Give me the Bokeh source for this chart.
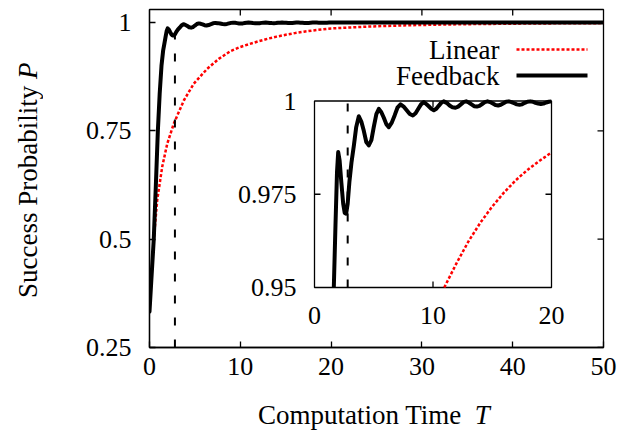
import numpy as np
from bokeh.plotting import figure
from bokeh.layouts import row, column
from bokeh.models import Range1d, FixedTicker, NumeralTickFormatter, Label, Arrow, Div
from bokeh.core.properties import value
from bokeh.embed import file_html
from bokeh.resources import INLINE

# ---------------- data ----------------
fb_T = [0, 0.2, 0.47, 0.7, 0.92, 1.12, 1.32, 1.5, 1.63, 1.77, 1.9, 2.0, 2.12, 2.27,
        2.42, 2.55, 2.67, 2.8, 2.95, 3.12, 3.32, 3.52, 3.74, 3.95, 4.16, 4.37, 4.58,
        4.8, 5.0, 5.22, 5.43, 5.64, 5.85, 6.06, 6.27, 6.52, 6.77, 7.0, 7.26, 7.52,
        7.78, 8.04, 8.3, 8.53, 8.76, 8.99, 9.22, 9.43, 9.64, 9.86, 10.07, 10.28,
        10.48, 10.69, 10.9, 11.15, 11.4, 11.65, 11.9, 12.12, 12.35, 12.57, 12.8,
        13.02, 13.25, 13.47, 13.7, 13.92, 14.15, 14.37, 14.6, 14.82, 15.05, 15.27,
        15.5, 15.72, 15.95, 16.17, 16.4, 16.62, 16.85, 17.07, 17.3, 17.52, 17.75,
        17.97, 18.2, 18.42, 18.65, 18.87, 19.1, 19.32, 19.55, 19.77, 20.0, 25, 30,
        35, 40, 45, 50]
fb_P = [0.333, 0.405, 0.50, 0.625, 0.75, 0.835, 0.90, 0.935, 0.950, 0.9667, 0.981,
        0.9863, 0.984, 0.978, 0.9725, 0.9700, 0.9698, 0.9725, 0.9785, 0.9835, 0.988,
        0.993, 0.9959, 0.9945, 0.992, 0.989, 0.9881, 0.9895, 0.993, 0.9965, 0.9979,
        0.997, 0.9955, 0.9938, 0.993, 0.9942, 0.9962, 0.9982, 0.9991, 0.9985, 0.9975,
        0.9965, 0.9961, 0.9967, 0.9979, 0.9991, 0.9997, 0.9992, 0.9986, 0.9979,
        0.9975, 0.9979, 0.9987, 0.9995, 0.9999, 0.9995, 0.9988, 0.9983, 0.9982,
        0.9985, 0.9991, 0.9997, 0.9999, 0.9996, 0.9991, 0.9986, 0.9985, 0.9987,
        0.9992, 0.9997, 0.9999, 0.9997, 0.9993, 0.9989, 0.9988, 0.9990, 0.9994,
        0.9998, 0.9999, 0.9997, 0.9994, 0.9991, 0.9990, 0.9991, 0.9995, 0.9998,
        0.9999, 0.9998, 0.9995, 0.9993, 0.9992, 0.9993, 0.9996, 0.9998, 0.9999,
        1.0, 1.0, 1.0, 1.0, 1.0, 1.0]

lin_T = [0, 0.2, 0.47, 0.85, 1.4, 1.95, 2.68, 3.78, 4.88, 6.35, 7.63, 8.92, 10.0,
         10.95, 12, 13, 14, 15, 16, 17, 18, 19, 20, 22, 24, 26, 28, 30, 33, 36, 40,
         45, 50]
lin_P = [0.333, 0.41, 0.498, 0.59, 0.667, 0.72, 0.767, 0.82, 0.859, 0.893, 0.916,
         0.934, 0.9435, 0.950, 0.9566, 0.9624, 0.9674, 0.9717, 0.9755, 0.9788,
         0.9816, 0.984, 0.9862, 0.9885, 0.9905, 0.992, 0.9933, 0.9943, 0.9955,
         0.9964, 0.9973, 0.9981, 0.9986]

t_opt = 2.8          # dashed marker time
p_opt_top = 0.972    # where the dashed marker meets the feedback curve

series_names = ["Linear", "Feedback"]
x_ticks = [0, 10, 20, 30, 40, 50]
y_ticks = [0.25, 0.5, 0.75, 1.0]
inset_x_ticks = [0, 10, 20]
inset_x_labels = ["0", "10", "20"]
inset_y_ticks = [0.95, 0.975, 1.0]
inset_y_labels = ["0.95", "0.975", "1"]
x_title = ["Computation Time", "T"]
y_title = ["Success Probability", "P"]

# ---------------- layout ----------------
TOTAL_W, TOTAL_H = 621, 430
YW = 45            # width of the y-title strip
XH = 35            # height of the x-title strip
W, H = TOTAL_W - YW, TOTAL_H - XH
FW, FH = 454, 338
BL, BT = 149 - YW, 9
BR = W - BL - FW
BB = H - BT - FH
X0, X1 = 0, 50
Y0, Y1 = 0.25, 1.03
# inset box in frame pixels (from frame left / frame top)
IL, IR, IT, IB = 165, 402, 91.5, 278
IX0, IX1 = inset_x_ticks[0], inset_x_ticks[-1]
IY0, IY1 = inset_y_ticks[0], inset_y_ticks[-1]
ux = (IX1 - IX0) / (IR - IL)
uy = (IY1 - IY0) / (IB - IT)
ix_range = Range1d(IX0 - IL * ux, IX1 + (FW - IR) * ux)
iy_range = Range1d(IY0 - (FH - IB) * uy, IY1 + IT * uy)

FONT = "Liberation Serif"
LW = 1.3

p = figure(width=W, height=H, x_range=Range1d(X0, X1), y_range=Range1d(Y0, Y1),
           output_backend="svg", toolbar_location=None,
           min_border_left=BL, min_border_right=BR, min_border_top=BT,
           min_border_bottom=BB, margin=0)
p.extra_x_ranges = {"ix": ix_range}
p.extra_y_ranges = {"iy": iy_range}
p.grid.visible = False
p.outline_line_color = "black"
p.outline_line_width = LW
p.outline_line_alpha = 1.0
p.background_fill_color = "white"
p.border_fill_color = "white"

p.xaxis.ticker = FixedTicker(ticks=x_ticks)
p.yaxis.ticker = FixedTicker(ticks=y_ticks)
p.yaxis.formatter = NumeralTickFormatter(format="0.[00]")
for ax in (p.xaxis[0], p.yaxis[0]):
    ax.major_tick_in = 6
    ax.major_tick_out = 0
    ax.minor_tick_line_color = None
    ax.axis_line_color = "black"
    ax.axis_line_width = LW
    ax.major_tick_line_color = "black"
    ax.major_tick_line_width = LW
    ax.major_label_text_font = FONT
    ax.major_label_text_font_size = "26px"
    ax.major_label_text_color = "black"
p.yaxis.major_label_standoff = 18
p.xaxis.major_label_standoff = 10

# mirrored inward ticks on top and right
p.ray(x=x_ticks[1:-1], y=[Y1] * len(x_ticks[1:-1]), length=6, length_units="screen",
      angle=-np.pi / 2, line_color="black", line_width=LW)
p.ray(x=[X1] * len(y_ticks), y=y_ticks, length=6, length_units="screen",
      angle=np.pi, line_color="black", line_width=LW)

# main curves
p.line(lin_T, lin_P, line_color="red", line_width=2.5, line_dash="3 2")
p.line(fb_T, fb_P, line_color="black", line_width=4, line_join="round", line_cap="round")
p.line([t_opt, t_opt], [Y0, p_opt_top], line_color="black", line_width=2, line_dash="8 14")

# ---------------- inset ----------------
fbT = np.array(fb_T); fbP = np.array(fb_P)
m = (fbP >= IY0) & (fbT <= IX1)
lT = np.array(lin_T); lP = np.array(lin_P)
ml = (lP >= IY0) & (lT <= IX1)

p.quad(left=[IX0], right=[IX1], bottom=[IY0], top=[IY1], x_range_name="ix",
       y_range_name="iy", fill_color="white", line_color="black", line_width=LW)
p.line(lT[ml], lP[ml], x_range_name="ix", y_range_name="iy",
       line_color="red", line_width=2.5, line_dash="3 2")
p.line(fbT[m], fbP[m], x_range_name="ix", y_range_name="iy",
       line_color="black", line_width=4, line_join="round")
p.line([t_opt, t_opt], [IY0, IY1], x_range_name="ix", y_range_name="iy",
       line_color="black", line_width=2, line_dash="8 14")

# inset ticks (inward, mirrored)
iyt = inset_y_ticks[1:-1]
ixt = inset_x_ticks[1:-1]
p.ray(x=[IX0] * len(iyt), y=iyt, length=6, length_units="screen", angle=0,
      x_range_name="ix", y_range_name="iy", line_color="black", line_width=LW)
p.ray(x=[IX1] * len(iyt), y=iyt, length=6, length_units="screen", angle=np.pi,
      x_range_name="ix", y_range_name="iy", line_color="black", line_width=LW)
p.ray(x=ixt, y=[IY0] * len(ixt), length=6, length_units="screen", angle=np.pi / 2,
      x_range_name="ix", y_range_name="iy", line_color="black", line_width=LW)
p.ray(x=ixt, y=[IY1] * len(ixt), length=6, length_units="screen", angle=-np.pi / 2,
      x_range_name="ix", y_range_name="iy", line_color="black", line_width=LW)

# inset tick labels
p.text(x=[IX0] * len(inset_y_ticks), y=inset_y_ticks, text=inset_y_labels,
       x_offset=-18, text_align="right", text_baseline="middle",
       text_font=value(FONT), text_font_size="26px", text_color="black",
       x_range_name="ix", y_range_name="iy")
p.text(x=inset_x_ticks, y=[IY0] * len(inset_x_ticks), text=inset_x_labels,
       y_offset=28, text_align="center", text_baseline="middle",
       text_font=value(FONT), text_font_size="26px", text_color="black",
       x_range_name="ix", y_range_name="iy")

# ---------------- legend (text then sample, gnuplot style) ----------------
def lab(x, y, text):
    p.add_layout(Label(x=x, y=y, x_units="screen", y_units="screen", text=text,
                       text_align="right", text_baseline="middle",
                       text_font=FONT, text_font_size="27px", text_color="black"))

lab(350, 297.5, series_names[0])
lab(350, 271.5, series_names[1])
p.add_layout(Arrow(x_start=367, y_start=298, x_end=438, y_end=298,
                   start_units="screen", end_units="screen", start=None, end=None,
                   line_color="red", line_width=2.5, line_dash="3 2"))
p.add_layout(Arrow(x_start=367, y_start=272, x_end=438, y_end=272,
                   start_units="screen", end_units="screen", start=None, end=None,
                   line_color="black", line_width=4))

# ---------------- axis titles (upright words, italic symbol) ----------------
title_css = ("font-family:'Liberation Serif',serif;font-size:27px;line-height:30px;"
             "color:black;white-space:nowrap;box-sizing:border-box;")
ydiv = Div(width=YW, height=H, margin=0, text=(
    f'<div style="{title_css}writing-mode:vertical-rl;transform:rotate(180deg);'
    f'width:30px;height:{H}px;padding-top:34px;margin-left:13px;text-align:center;">'
    f'{y_title[0]} <i>{y_title[1]}</i></div>'))
xdiv = Div(width=TOTAL_W, height=XH, margin=0, text=(
    f'<div style="{title_css}padding-left:258px;padding-top:5px;">'
    f'{x_title[0]}&nbsp;&nbsp;<i>{x_title[1]}</i></div>'))

layout = column(row(ydiv, p, margin=0, spacing=0), xdiv, margin=0, spacing=0)

open("out.html", "w").write(file_html(layout, INLINE))
